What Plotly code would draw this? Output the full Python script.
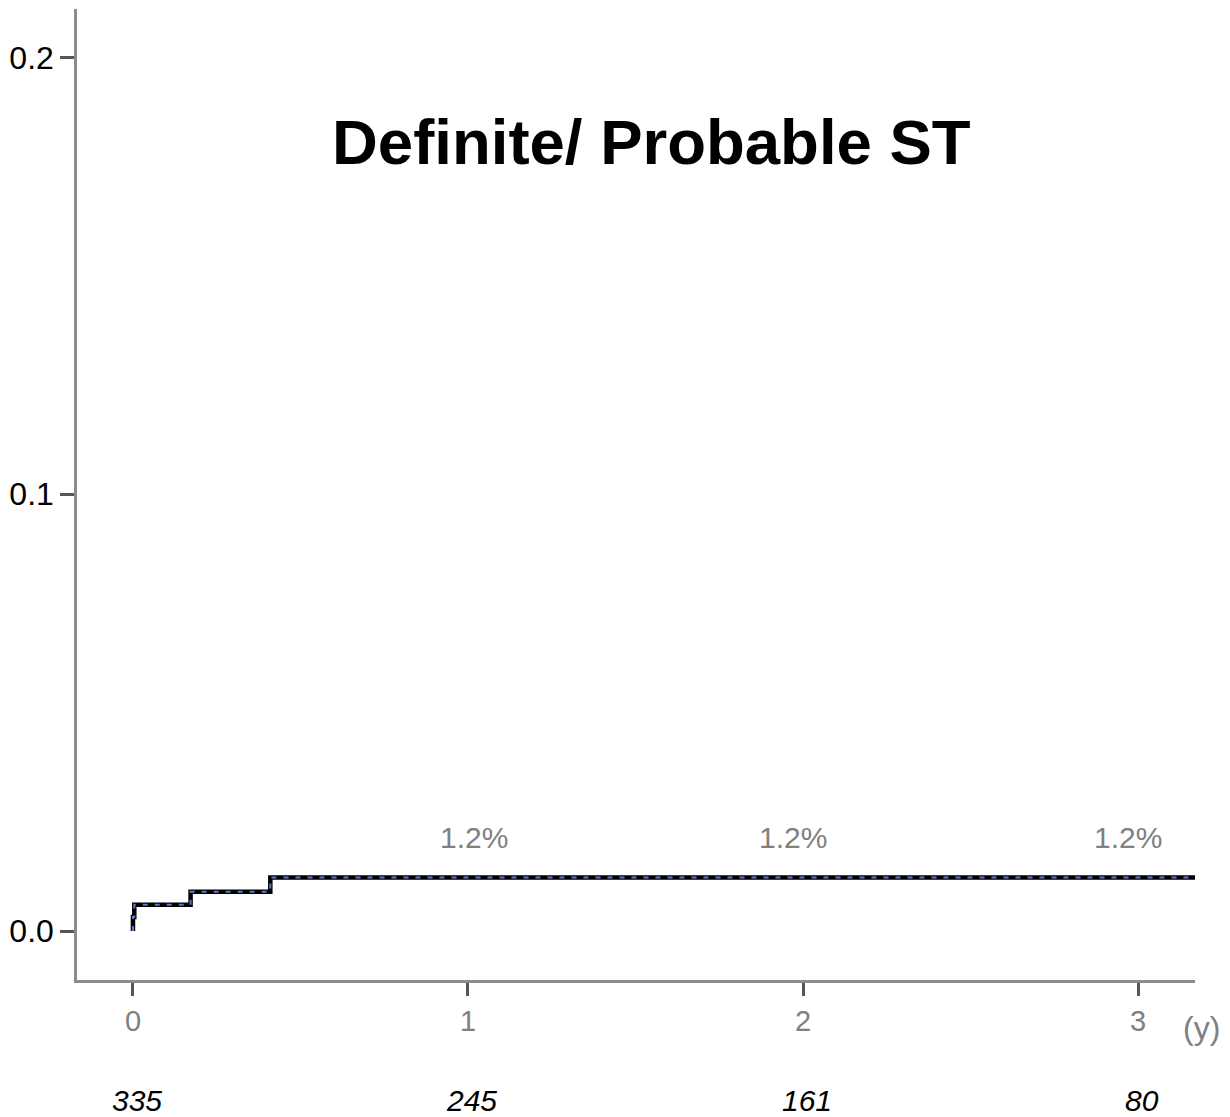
import plotly.graph_objects as go

# Kaplan-Meier style cumulative incidence (step curve)
event_times = [0.0, 0.0, 0.004, 0.172, 0.410, 3.170]
cum_incidence = [0.0, 0.0032, 0.0060, 0.0090, 0.01225, 0.01225]

# rate labels
rate_times = [1, 2, 3]
rate_labels = ["1.2%", "1.2%", "1.2%"]

# numbers at risk
risk_times = [0, 1, 2, 3]
at_risk = [335, 245, 161, 80]

x_ticks = [0, 1, 2, 3]
x_ticktext = ["0", "1", "2", "3"]
y_ticks = [0.0, 0.1, 0.2]
y_ticktext = ["0.0", "0.1", "0.2"]

title_text = "Definite/ Probable ST"
FONT = "Liberation Sans, Arial, sans-serif"

fig = go.Figure()
fig.add_trace(go.Scatter(
    x=event_times, y=cum_incidence, mode="lines",
    line=dict(shape="hv", color="black", width=4.5),
    hoverinfo="skip", showlegend=False,
))
fig.add_trace(go.Scatter(
    x=event_times, y=cum_incidence, mode="lines",
    line=dict(shape="hv", color="#5b79d2", width=2, dash="5px,7px"),
    hoverinfo="skip", showlegend=False,
))

annotations = []
rate_shifts = [6, -10, -10]
for t, lab, sh in zip(rate_times, rate_labels, rate_shifts):
    annotations.append(dict(
        x=t, y=0.0215, xref="x", yref="y", text=lab, showarrow=False,
        xshift=sh, font=dict(family=FONT, size=30, color="#808080"),
        xanchor="center", yanchor="middle",
    ))
for t, n in zip(risk_times, at_risk):
    annotations.append(dict(
        x=t, y=-0.1246, xref="x", yref="paper", text=f"<i>{n}</i>",
        showarrow=False, xshift=4,
        font=dict(family=FONT, size=30, color="black"),
        xanchor="center", yanchor="middle",
    ))
annotations.append(dict(
    x=1.006, y=-0.0494, xref="paper", yref="paper", text="(y)",
    showarrow=False, font=dict(family=FONT, size=32, color="#808080"),
    xanchor="center", yanchor="middle",
))
annotations.append(dict(
    x=0.5139, y=0.863, xref="paper", yref="paper", text=f"<b>{title_text}</b>",
    showarrow=False, font=dict(family=FONT, size=63.5, color="black"),
    xanchor="center", yanchor="middle",
))

fig.update_layout(
    width=1230, height=1117,
    margin=dict(l=77, r=35, t=9, b=137),
    paper_bgcolor="white", plot_bgcolor="white",
    showlegend=False,
    annotations=annotations,
    xaxis=dict(
        range=[-0.167, 3.170], tickvals=x_ticks, ticktext=x_ticktext,
        showgrid=False, zeroline=False,
        showline=True, linecolor="#8c8c8c", linewidth=2.5,
        ticks="outside", ticklen=13, tickwidth=2.5, tickcolor="#555555",
        tickfont=dict(family=FONT, size=29, color="#7f7f7f"),
    ),
    yaxis=dict(
        range=[-0.0112, 0.2111], tickvals=y_ticks, ticktext=y_ticktext,
        showgrid=False, zeroline=False,
        showline=True, linecolor="#8c8c8c", linewidth=2.5,
        ticks="outside", ticklen=14, tickwidth=2.5, tickcolor="#555555",
        tickfont=dict(family=FONT, size=32, color="black"),
    ),
)

fig.write_html(
    "out.html",
    config={"displayModeBar": False},
    post_script="document.body.style.margin='0px';document.body.style.overflow='hidden';",
)
